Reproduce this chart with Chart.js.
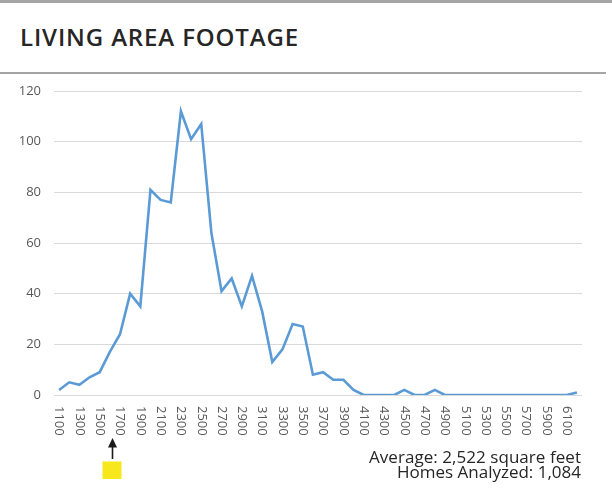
<!DOCTYPE html>
<html>
<head>
<meta charset="utf-8">
<script src="https://cdn.jsdelivr.net/npm/chart.js@4/dist/chart.umd.min.js"></script>
<style>
  html, body { margin: 0; padding: 0; background: #fff; }
  #wrap { position: relative; width: 612px; height: 490px; overflow: hidden; font-family: "Open Sans", "Noto Sans", sans-serif; }
  #topbar { position: absolute; left: 0; top: 0; width: 612px; height: 3px; background: #a5a5a5; }
  #title { position: absolute; left: 20px; top: 25px; font-size: 24px; line-height: 24px; font-weight: 600; color: #262626; white-space: nowrap; }
  #midbar { position: absolute; left: 0; top: 72px; width: 606px; height: 2px; background: #a5a5a5; }
  #chartbox { position: absolute; left: 0; top: 80px; width: 612px; height: 410px; }
  #notes { position: absolute; right: 31px; top: 449px; font-size: 17px; line-height: 15px; color: #262626; white-space: nowrap; text-align: right; }
  #notes span { display: inline-block; }
</style>
</head>
<body>
<div id="wrap">
  <div id="topbar"></div>
  <div id="title"><span id="titleText">LIVING AREA FOOTAGE</span></div>
  <div id="midbar"></div>
  <div id="chartbox"><canvas id="c" width="612" height="410"></canvas></div>
  <div id="notes"><span id="n1">Average: 2,522 square feet</span><br><span id="n2">Homes Analyzed: 1,084</span></div>
</div>
<script>
// Square-footage bins (every 100 sq ft)
const categories = ["1100","1200","1300","1400","1500","1600","1700","1800","1900","2000",
  "2100","2200","2300","2400","2500","2600","2700","2800","2900","3000",
  "3100","3200","3300","3400","3500","3600","3700","3800","3900","4000",
  "4100","4200","4300","4400","4500","4600","4700","4800","4900","5000",
  "5100","5200","5300","5400","5500","5600","5700","5800","5900","6000",
  "6100","6200"];
// Number of homes in each bin
const homeCounts = [2,5,4,7,9,17,24,40,35,81,
  77,76,112,101,107,64,41,46,35,47,
  33,13,18,28,27,8,9,6,6,2,
  0,0,0,0,2,0,0,2,0,0,
  0,0,0,0,0,0,0,0,0,0,
  0,1];
// Y axis ticks
const yTicks = [0,20,40,60,80,100,120];
// Subject home marker (sq ft)
const markerValue = 1625;

// fit title / note widths to the reference text widths
function fitWidth(id, target) {
  const el = document.getElementById(id);
  const w = el.getBoundingClientRect().width;
  const n = el.textContent.length;
  el.style.letterSpacing = ((target - w) / n) + 'px';
}
fitWidth('titleText', 279);
fitWidth('n1', 212);
fitWidth('n2', 184);

const axisFont = { family: "'Open Sans', 'Noto Sans', sans-serif", size: 13 };
const tickColor = "#595959";

const xLabelPlugin = {
  id: 'xLabels',
  afterDraw(chart) {
    const ctx = chart.ctx;
    const xs = chart.scales.x;
    const bottom = chart.chartArea.bottom;
    ctx.save();
    ctx.font = "13px 'Open Sans', 'Noto Sans', sans-serif";
    ctx.fillStyle = tickColor;
    ctx.textAlign = 'left';
    ctx.textBaseline = 'middle';
    categories.forEach((lab, i) => {
      if (i % 2 !== 0) return;
      const x = xs.getPixelForValue(i);
      ctx.save();
      ctx.translate(x, bottom + 11);
      ctx.rotate(Math.PI / 2);
      ctx.fillText(lab, 0, 0);
      ctx.restore();
    });
    // marker arrow + yellow square
    const first = Number(categories[0]);
    const step = Number(categories[1]) - first;
    const pos = (markerValue - first) / step;
    const i0 = Math.floor(pos);
    const mx = xs.getPixelForValue(i0) + (pos - i0) * (xs.getPixelForValue(i0 + 1) - xs.getPixelForValue(i0));
    const ax = Math.round(mx) + 0.5;
    ctx.strokeStyle = '#1a1a1a';
    ctx.fillStyle = '#1a1a1a';
    ctx.lineWidth = 1.6;
    ctx.beginPath();
    ctx.moveTo(ax, bottom + 64);
    ctx.lineTo(ax, bottom + 50);
    ctx.stroke();
    ctx.beginPath();
    ctx.moveTo(ax, bottom + 43);
    ctx.lineTo(ax - 4.5, bottom + 52.5);
    ctx.lineTo(ax + 4.5, bottom + 52.5);
    ctx.closePath();
    ctx.fill();
    ctx.fillStyle = '#f7e81c';
    ctx.fillRect(Math.round(mx) - 9.5, bottom + 66.5, 19, 17.5);
    ctx.restore();
  }
};

new Chart(document.getElementById('c'), {
  type: 'line',
  data: {
    labels: categories,
    datasets: [{
      data: homeCounts,
      borderColor: '#5b9bd5',
      borderWidth: 2.6,
      pointRadius: 0,
      tension: 0,
      fill: false
    }]
  },
  options: {
    responsive: false,
    animation: false,
    plugins: { legend: { display: false }, tooltip: { enabled: false } },
    layout: { padding: { left: 0, right: 30, top: 11, bottom: 0 } },
    scales: {
      x: {
        type: 'category',
        offset: true,
        grid: { display: false, drawTicks: false },
        border: { display: false },
        ticks: { display: false },
        afterFit(scale) { scale.height = 95; scale.paddingLeft = 0; scale.paddingRight = 0; scale.paddingTop = 0; scale.paddingBottom = 0; }
      },
      y: {
        min: 0, max: 120,
        afterBuildTicks(scale) { scale.ticks = yTicks.map(v => ({ value: v })); },
        grid: { color: '#d9d9d9', lineWidth: 1, drawTicks: false },
        border: { display: false },
        ticks: { font: axisFont, color: tickColor, padding: 13 },
        afterFit(scale) { scale.width = 54; scale.paddingTop = 0; scale.paddingBottom = 0; scale.paddingLeft = 0; scale.paddingRight = 0; }
      }
    }
  },
  plugins: [xLabelPlugin]
});
</script>
</body>
</html>
